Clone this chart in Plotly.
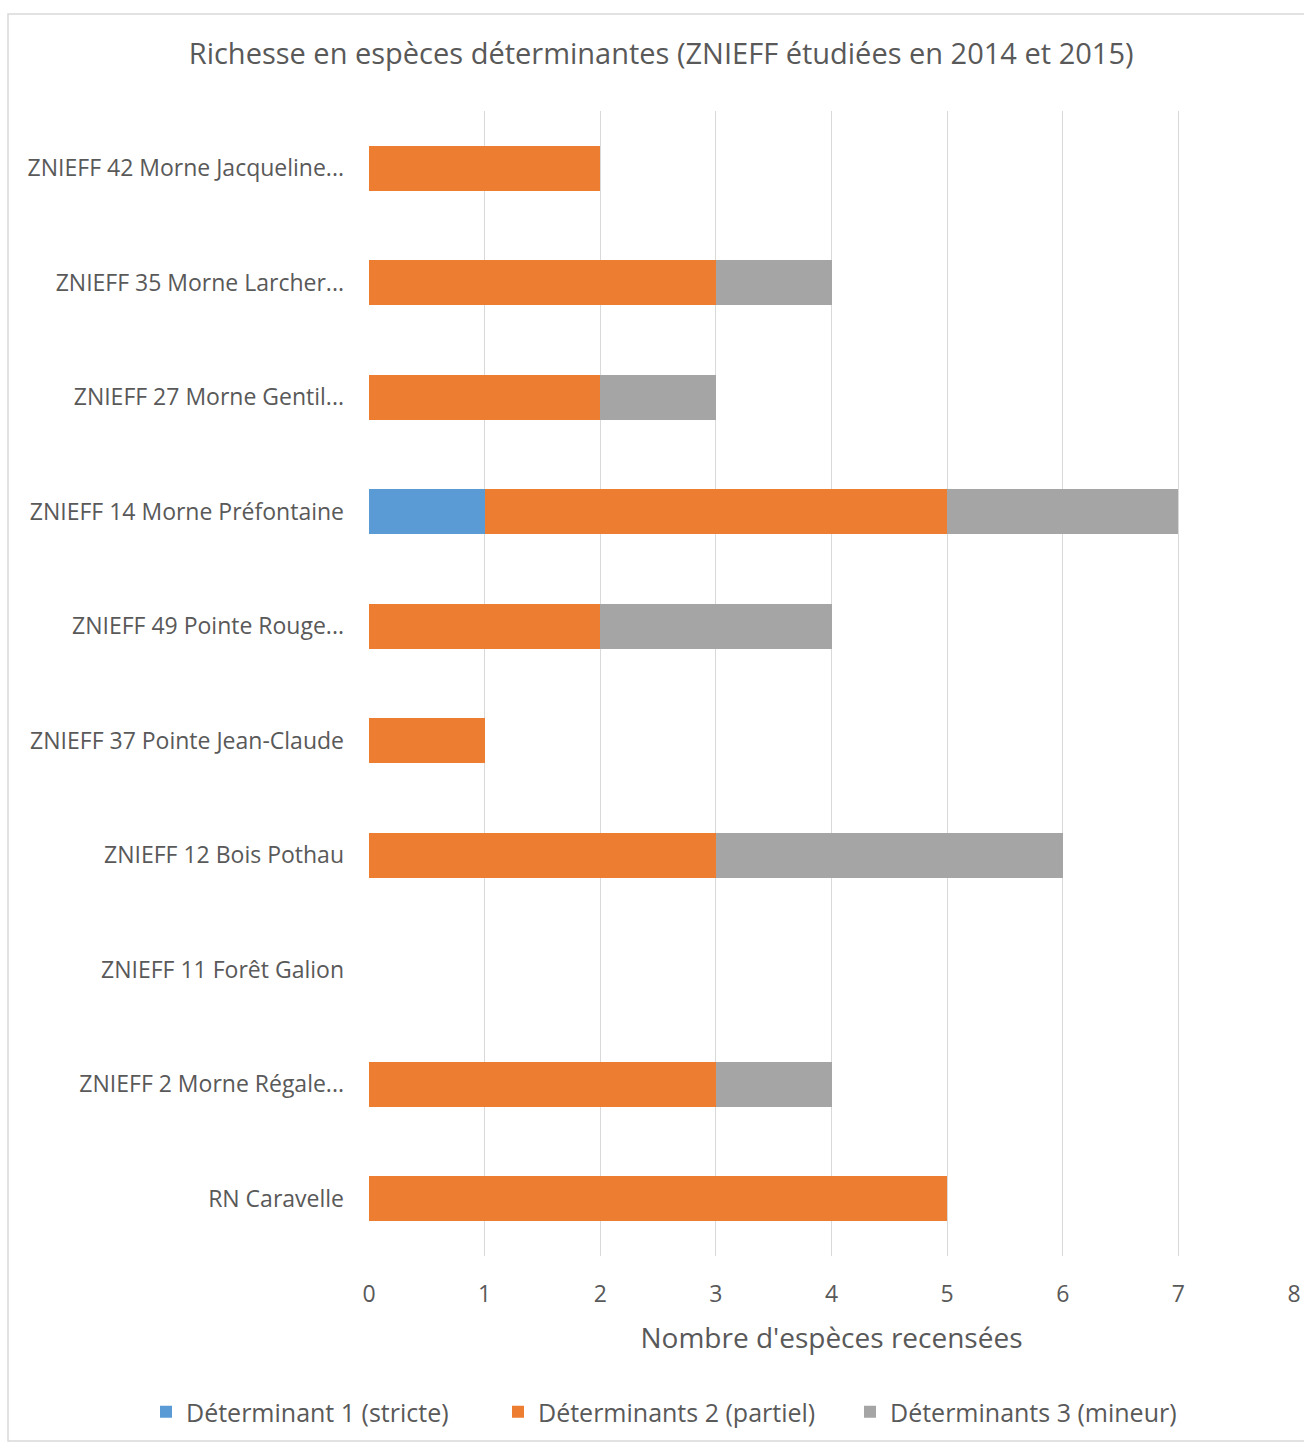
import plotly.graph_objects as go

# Sites, top to bottom
sites = [
    "ZNIEFF 42 Morne Jacqueline...",
    "ZNIEFF 35 Morne Larcher...",
    "ZNIEFF 27 Morne Gentil...",
    "ZNIEFF 14 Morne Préfontaine",
    "ZNIEFF 49 Pointe Rouge...",
    "ZNIEFF 37 Pointe Jean-Claude",
    "ZNIEFF 12 Bois Pothau",
    "ZNIEFF 11 Forêt Galion",
    "ZNIEFF 2 Morne Régale...",
    "RN Caravelle",
]

det1_stricte = [0, 0, 0, 1, 0, 0, 0, 0, 0, 0]
det2_partiel = [2, 3, 2, 4, 2, 1, 3, 0, 3, 5]
det3_mineur = [0, 1, 1, 2, 2, 0, 3, 0, 1, 0]

x_ticks = [0, 1, 2, 3, 4, 5, 6, 7, 8]

series = [
    ("Déterminant 1 (stricte)", det1_stricte, "#5B9BD5"),
    ("Déterminants 2 (partiel)", det2_partiel, "#ED7D31"),
    ("Déterminants 3 (mineur)", det3_mineur, "#A5A5A5"),
]

FONT = "Open Sans, Calibri, Carlito, sans-serif"
TEXT = "#595959"

fig = go.Figure()
for name, vals, color in series:
    fig.add_trace(go.Bar(
        y=sites, x=vals, name=name, orientation="h",
        marker=dict(color=color, line=dict(width=0)),
    ))

W, H = 1304, 1444
L, R, T, B = 369, 10, 111, 188
pw, ph = W - L - R, H - T - B


def px_x(px):
    return (px - L) / pw


def px_y(py):
    return (H - B - py) / ph


fig.update_layout(
    width=W, height=H,
    barmode="stack",
    bargap=0.61,
    paper_bgcolor="white",
    plot_bgcolor="white",
    margin=dict(l=L, r=R, t=T, b=B, autoexpand=False),
    font=dict(family=FONT, color=TEXT),
    title=dict(
        text="Richesse en espèces déterminantes (ZNIEFF étudiées en 2014 et 2015)",
        x=0.507, xanchor="center", xref="container",
        y=1 - 54 / H, yanchor="middle", yref="container",
        font=dict(size=29, color=TEXT, family=FONT),
    ),
    xaxis=dict(
        range=[0, 8], tickvals=x_ticks, showgrid=True, gridcolor="#D9D9D9",
        gridwidth=1, zeroline=False, showline=False, ticks="",
        automargin=False, ticklabeloverflow="allow",
        tickfont=dict(size=23, color=TEXT), ticklabelstandoff=22,
        title=dict(text="Nombre d'espèces recensées", font=dict(size=28, color=TEXT), standoff=20),
    ),
    yaxis=dict(
        autorange="reversed", showgrid=False, zeroline=False, showline=False,
        automargin=False,
        ticks="", tickfont=dict(size=23, color=TEXT), ticklabelstandoff=24,
    ),
    legend=dict(
        orientation="h", traceorder="normal",
        xref="paper", x=px_x(146), xanchor="left",
        yref="paper", y=px_y(1412), yanchor="middle",
        font=dict(size=25, color=TEXT), itemwidth=30,
        entrywidth=307, entrywidthmode="pixels",
        tracegroupgap=0,
    ),
    showlegend=True,
)

# Chart frame
fig.add_shape(
    type="rect", xref="paper", yref="paper",
    x0=px_x(8), x1=px_x(1312), y0=px_y(1441), y1=px_y(14),
    line=dict(color="#D9D9D9", width=1.5), fillcolor="rgba(0,0,0,0)",
    layer="below",
)

fig.write_html("out.html")
